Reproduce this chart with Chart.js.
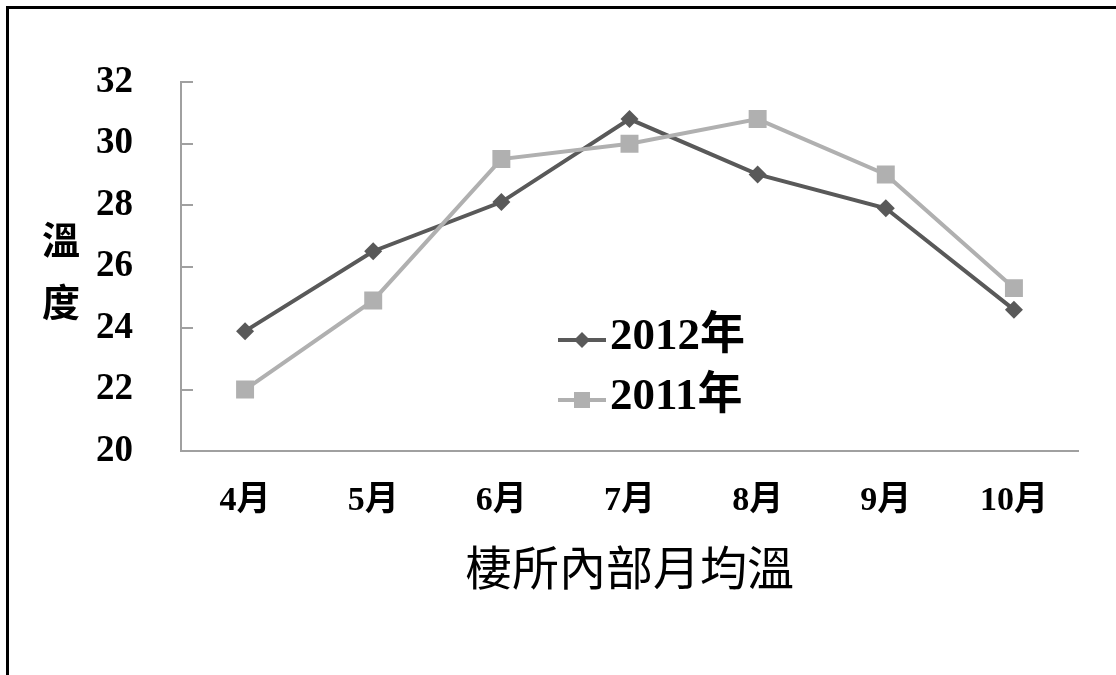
<!DOCTYPE html>
<html>
<head>
<meta charset="utf-8">
<script src="https://cdn.jsdelivr.net/npm/chart.js@4"></script>
<style>
  html, body { margin: 0; padding: 0; background: #fff; overflow: hidden; }
  #wrap { position: relative; width: 1116px; height: 675px; }
  #frame { position: absolute; left: 6px; top: 6px; width: 1107px; height: 700px; border: 3px solid #000; pointer-events: none; }
  canvas { position: absolute; left: 0; top: 0; }
</style>
</head>
<body>
<div id="wrap">
  <canvas id="myChart" width="1116" height="675"></canvas>
  <div id="frame"></div>
</div>
<script>
var months = ['4月', '5月', '6月', '7月', '8月', '9月', '10月'];
var temp2012 = [23.9, 26.5, 28.1, 30.8, 29.0, 27.9, 24.6];
var temp2011 = [22.0, 24.9, 29.5, 30.0, 30.8, 29.0, 25.3];
var seriesNames = ['2012年', '2011年'];
var yTitle = ['溫', '度'];
var xTitle = '棲所內部月均溫';

var serif = '"Liberation Serif", "Times New Roman", "Noto Sans CJK TC", serif';
var cjk = '"Noto Sans CJK TC", sans-serif';

// vertical y title, one character per line
var yTitlePlugin = {
    id: 'yTitle',
    afterDraw: function (chart) {
        var c = chart.ctx;
        c.save();
        c.font = 'bold 38px ' + cjk;
        c.fillStyle = '#000';
        c.textAlign = 'center';
        c.textBaseline = 'middle';
        c.fillText(yTitle[0], 61, 240);
        c.fillText(yTitle[1], 61, 302);
        c.restore();
    }
};

// legend inside the plot, line sample with marker then the label
var insideLegend = {
    id: 'insideLegend',
    afterDraw: function (chart) {
        var c = chart.ctx;
        var rows = [340, 400];
        c.save();
        chart.data.datasets.forEach(function (ds, i) {
            var y = rows[i];
            c.strokeStyle = ds.borderColor;
            c.lineWidth = 4;
            c.beginPath();
            c.moveTo(558, y);
            c.lineTo(606, y);
            c.stroke();
            c.fillStyle = ds.backgroundColor;
            if (ds.pointStyle === 'rectRot') {
                c.beginPath();
                c.moveTo(582, y - 8);
                c.lineTo(590, y);
                c.lineTo(582, y + 8);
                c.lineTo(574, y);
                c.closePath();
                c.fill();
            } else {
                c.fillRect(574, y - 8, 16, 16);
            }
            c.fillStyle = '#000';
            c.font = 'bold 45px ' + serif;
            c.textAlign = 'left';
            c.textBaseline = 'middle';
            c.fillText(ds.label, 610, y - 3);
        });
        c.restore();
    }
};

var ctx = document.getElementById('myChart').getContext('2d');
var myChart = new Chart(ctx, {
    type: 'line',
    data: {
        labels: months,
        datasets: [{
            label: seriesNames[0],
            data: temp2012,
            borderColor: '#595959',
            backgroundColor: '#595959',
            borderWidth: 4,
            pointStyle: 'rectRot',
            pointRadius: 9,
            pointBorderWidth: 0,
            tension: 0,
            order: 2
        }, {
            label: seriesNames[1],
            data: temp2011,
            borderColor: '#b0b0b0',
            backgroundColor: '#b0b0b0',
            borderWidth: 4,
            pointStyle: 'rect',
            pointRadius: 12.7,
            pointBorderWidth: 0,
            tension: 0,
            order: 1
        }]
    },
    options: {
        responsive: false,
        animation: false,
        layout: { padding: { left: 0, top: 77, right: 38, bottom: 0 } },
        plugins: {
            legend: { display: false },
            tooltip: { enabled: false }
        },
        scales: {
            x: {
                offset: true,
                grid: { display: false, drawTicks: false },
                border: { display: true, color: '#a0a0a0', width: 2 },
                ticks: {
                    padding: 30,
                    color: '#000',
                    font: { family: serif, size: 34, weight: 'bold' }
                },
                title: {
                    display: true,
                    text: xTitle,
                    color: '#000',
                    font: { family: cjk, size: 47 },
                    padding: { top: 0, bottom: 80 }
                },
                afterFit: function (s) { s.height = 224; }
            },
            y: {
                min: 20,
                max: 32,
                grid: {
                    display: true,
                    drawOnChartArea: false,
                    drawTicks: true,
                    tickLength: -12,
                    color: '#a0a0a0',
                    lineWidth: 2
                },
                border: { display: true, color: '#a0a0a0', width: 2 },
                ticks: {
                    stepSize: 2,
                    padding: 60,
                    color: '#000',
                    font: { family: serif, size: 37, weight: 'bold' }
                },
                afterFit: function (s) { s.width = 181; }
            }
        }
    },
    plugins: [yTitlePlugin, insideLegend]
});
</script>
</body>
</html>
